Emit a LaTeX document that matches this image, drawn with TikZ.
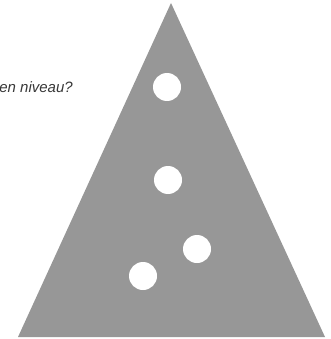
\documentclass[tikz,border=0pt]{standalone}
\usepackage{fontspec}
\setmainfont{Liberation Sans}
\definecolor{trigray}{HTML}{979797}
\definecolor{txtgray}{HTML}{383838}
\usetikzlibrary{positioning,calc}

\begin{document}
\begin{tikzpicture}[x=1pt,y=-1pt]
\useasboundingbox (0,0) rectangle (330,339);
% Draw triangle
\fill[trigray] (171,3) coordinate (top) -- (18,337) coordinate (left)
  -- (325,337) coordinate (right) -- cycle;

% Draw holes
\foreach \i/\x/\y in {1/167/87,2/168/180,3/197/249,4/143/276}{
  \node[circle, fill=white, minimum size=28pt, inner sep=0pt] (hole\i) at (\x,\y) {};
}

% Question text
\node[anchor=base east, inner sep=0pt, text=txtgray,
  font=\itshape\fontsize{15}{18}\selectfont] (question) at (73,92.5) {en niveau?};
\end{tikzpicture}
\end{document}
